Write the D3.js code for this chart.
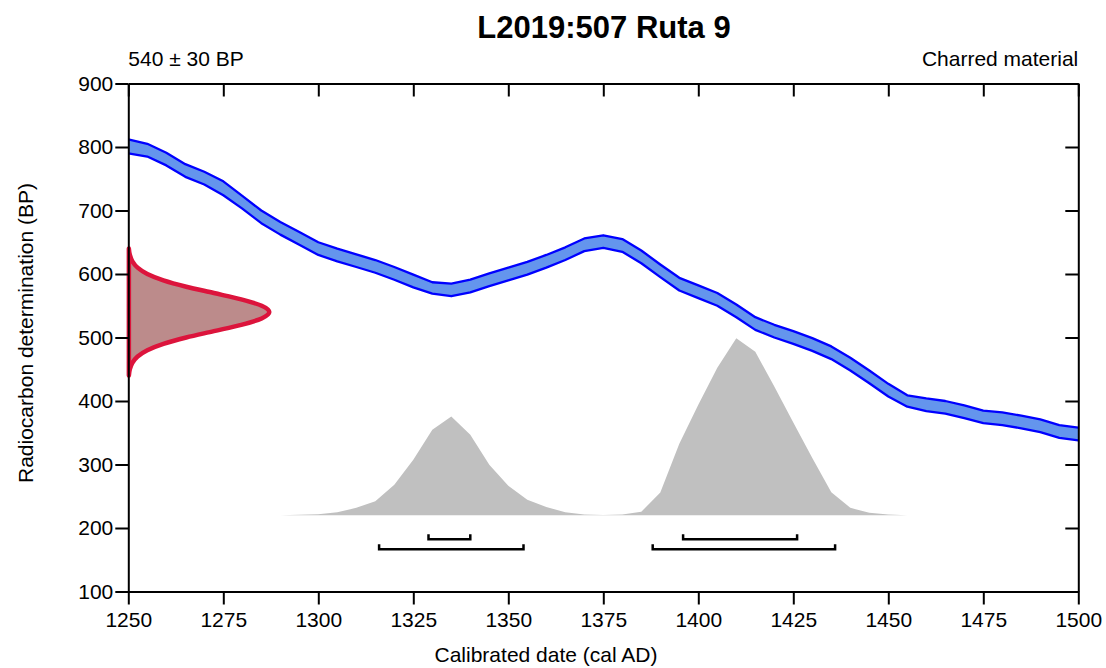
<!DOCTYPE html>
<html lang="en">
<head>
<meta charset="utf-8">
<title>L2019:507 Ruta 9</title>
<script src="https://cdn.jsdelivr.net/npm/d3@7"></script>
<style>
  body { margin: 0; background: #fff; }
  svg { display: block; font-family: "Liberation Sans", Arial, Helvetica, sans-serif; }
  .axis path, .axis line { stroke: #000; stroke-width: 2; }
  .axis text { font-size: 21px; fill: #000; font-family: "Liberation Sans", Arial, sans-serif; }
</style>
</head>
<body>
<div id="chart"></div>
<script>
// calibration curve (IntCal), every 5 years
var curveYears = [1250, 1255, 1260, 1265, 1270, 1275, 1280, 1285, 1290, 1295,
                  1300, 1305, 1310, 1315, 1320, 1325, 1330, 1335, 1340, 1345,
                  1350, 1355, 1360, 1365, 1370, 1375, 1380, 1385, 1390, 1395,
                  1400, 1405, 1410, 1415, 1420, 1425, 1430, 1435, 1440, 1445,
                  1450, 1455, 1460, 1465, 1470, 1475, 1480, 1485, 1490, 1495, 1500];
var curveBP = [801, 795, 781, 763, 751, 735, 713, 690, 672, 656,
               640, 630, 621, 612, 601, 589, 578, 575, 581, 591,
               600, 609, 620, 632, 646, 651, 645, 627, 605, 584,
               572, 560, 542, 522, 510, 500, 489, 476, 458, 438,
               417, 400, 394, 390, 383, 375, 372, 367, 361, 352, 348];
var curveErr = [11, 10, 10, 10, 10, 11, 10, 10, 10, 10,
                10, 10, 10, 10, 10, 10, 9, 10, 10, 10,
                10, 10, 10, 10, 10, 10, 10, 10, 10, 10,
                10, 10, 10, 10, 10, 10, 10, 10, 10, 10,
                10, 9, 10, 10, 10, 10, 10, 10, 10, 10, 10];

// radiocarbon determination 540 ± 30 BP, relative density by offset (BP)
var c14Mean = 540, c14Sd = 30;
var c14Offset = [-100, -90, -80, -70, -60, -50, -40, -30, -20, -10, 0,
                 10, 20, 30, 40, 50, 60, 70, 80, 90, 100];
var c14Density = [0.004, 0.011, 0.029, 0.066, 0.135, 0.249, 0.411, 0.607, 0.801, 0.946, 1,
                  0.946, 0.801, 0.607, 0.411, 0.249, 0.135, 0.066, 0.029, 0.011, 0.004];

// calibrated probability (relative)
var calYears = [1290, 1295, 1300, 1305, 1310, 1315, 1320, 1325, 1330,
                1335, 1340, 1345, 1350, 1355, 1360, 1365, 1370, 1375, 1380,
                1385, 1390, 1395, 1400, 1405, 1410, 1415, 1420, 1425, 1430,
                1435, 1440, 1445, 1450, 1455];
var calProb = [0, 0.003, 0.006, 0.017, 0.042, 0.079, 0.172, 0.314, 0.483,
               0.558, 0.455, 0.286, 0.167, 0.088, 0.047, 0.017, 0.004, 0.002, 0.004,
               0.020, 0.129, 0.404, 0.624, 0.834, 1.000, 0.924, 0.727, 0.524, 0.324,
               0.130, 0.042, 0.014, 0.004, 0];

// highest posterior density ranges
var range68 = [[1329, 1340], [1396, 1426]];
var range95 = [[1316, 1354], [1388, 1436]];

var xTicks = [1250, 1275, 1300, 1325, 1350, 1375, 1400, 1425, 1450, 1475, 1500];
var yTicks = [100, 200, 300, 400, 500, 600, 700, 800, 900];

var width = 1106, height = 668;
var mLeft = 128.3, mRight = 1078.3, mTop = 83.5, mBottom = 591.5;

var svg = d3.select("#chart").append("svg")
    .attr("width", width)
    .attr("height", height);

var x = d3.scaleLinear().domain([1250, 1500]).range([mLeft, mRight]);
var y = d3.scaleLinear().domain([100, 900]).range([mBottom, mTop]);

svg.append("clipPath").attr("id", "plot")
  .append("rect")
    .attr("x", mLeft).attr("y", mTop)
    .attr("width", mRight - mLeft).attr("height", mBottom - mTop);

var plot = svg.append("g").attr("clip-path", "url(#plot)");

// calibrated distribution
var base = y(220);
var p = d3.scaleLinear().domain([0, 1]).range([base, base - 177]);
var calData = calYears.map(function (d, i) { return {yr: d, p: calProb[i]}; });
plot.append("path")
    .datum(calData)
    .attr("fill", "#c0c0c0")
    .attr("d", d3.area()
        .x(function (d) { return x(d.yr); })
        .y0(base)
        .y1(function (d) { return p(d.p); }));

// calibration curve band
var curveData = curveYears.map(function (d, i) {
    return {yr: d, hi: curveBP[i] + curveErr[i], lo: curveBP[i] - curveErr[i]};
});
plot.append("path")
    .datum(curveData)
    .attr("fill", "#6495ed")
    .attr("d", d3.area()
        .x(function (d) { return x(d.yr); })
        .y0(function (d) { return y(d.lo); })
        .y1(function (d) { return y(d.hi); }));
["hi", "lo"].forEach(function (k) {
    plot.append("path")
        .datum(curveData)
        .attr("fill", "none")
        .attr("stroke", "#0000ff")
        .attr("stroke-width", 2.3)
        .attr("stroke-linejoin", "round")
        .attr("d", d3.line()
            .x(function (d) { return x(d.yr); })
            .y(function (d) { return y(d[k]); }));
});

// radiocarbon date on the y axis
var w = d3.scaleLinear().domain([0, 1]).range([mLeft, mLeft + 141]);
var c14Data = c14Offset.map(function (d, i) { return {bp: c14Mean + d, v: c14Density[i]}; });
svg.append("path")
    .datum(c14Data)
    .attr("fill", "#bc8b8b")
    .attr("stroke", "#dc143c")
    .attr("stroke-width", 4.5)
    .attr("stroke-linejoin", "round")
    .attr("d", function (d) {
        return d3.line()
            .curve(d3.curveMonotoneY)
            .x(function (e) { return w(e.v); })
            .y(function (e) { return y(e.bp); })(d) + "Z";
    });

// range brackets
function bracket(ranges, yy) {
    ranges.forEach(function (r) {
        svg.append("path")
            .attr("fill", "none")
            .attr("stroke", "#000")
            .attr("stroke-width", 2.5)
            .attr("d", "M" + x(r[0]) + "," + (yy - 5) + "V" + yy + "H" + x(r[1]) + "V" + (yy - 5));
    });
}
bracket(range68, base + 24);
bracket(range95, base + 34);

// axes
svg.append("g").attr("class", "axis")
    .attr("transform", "translate(0," + mBottom + ")")
    .call(d3.axisBottom(x).tickValues(xTicks).tickFormat(d3.format("d"))
        .tickSize(13).tickSizeOuter(0).tickPadding(8));
svg.append("g").attr("class", "axis")
    .attr("transform", "translate(0," + mTop + ")")
    .call(d3.axisTop(x).tickValues(xTicks).tickFormat("")
        .tickSize(-13).tickSizeOuter(0));
svg.append("g").attr("class", "axis")
    .attr("transform", "translate(" + mLeft + ",0)")
    .call(d3.axisLeft(y).tickValues(yTicks)
        .tickSize(13).tickSizeOuter(0).tickPadding(2));
svg.append("g").attr("class", "axis")
    .attr("transform", "translate(" + mRight + ",0)")
    .call(d3.axisRight(y).tickValues(yTicks).tickFormat("")
        .tickSize(-13).tickSizeOuter(0));

// texts
svg.append("text")
    .attr("x", 604).attr("y", 38)
    .attr("text-anchor", "middle")
    .attr("font-size", 31).attr("font-weight", "bold")
    .text("L2019:507 Ruta 9");
svg.append("text")
    .attr("x", mLeft).attr("y", 66)
    .attr("font-size", 21)
    .text(c14Mean + " \u00b1 " + c14Sd + " BP");
svg.append("text")
    .attr("x", mRight).attr("y", 66)
    .attr("text-anchor", "end")
    .attr("font-size", 21)
    .text("Charred material");
svg.append("text")
    .attr("x", 546).attr("y", 662)
    .attr("text-anchor", "middle")
    .attr("font-size", 21)
    .text("Calibrated date (cal AD)");
svg.append("text")
    .attr("transform", "translate(33,333) rotate(-90)")
    .attr("text-anchor", "middle")
    .attr("font-size", 21)
    .text("Radiocarbon determination (BP)");
</script>
</body>
</html>
